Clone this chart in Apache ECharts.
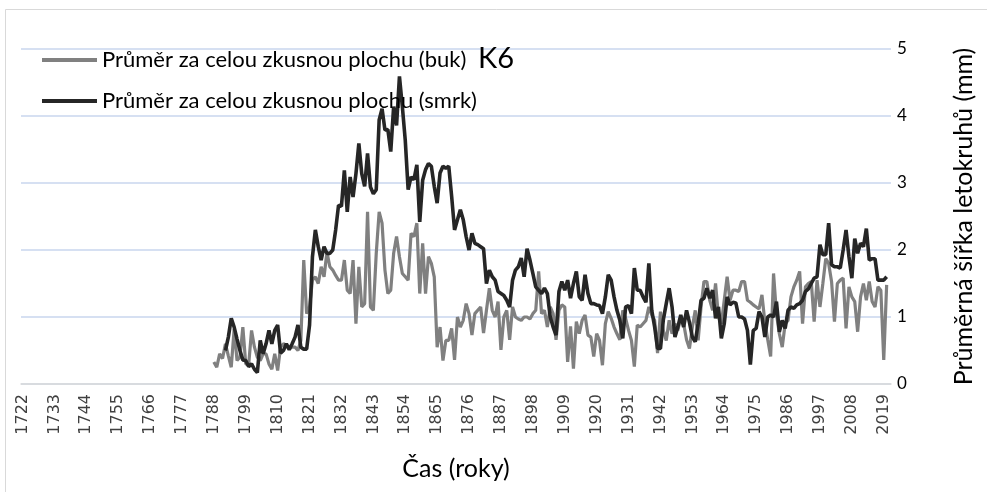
<!DOCTYPE html>
<html>
<head>
<meta charset="utf-8">
<script src="https://cdn.jsdelivr.net/npm/echarts@6/dist/echarts.min.js"></script>
<style>
html,body{margin:0;padding:0;background:#fff;}
#chart{width:987px;height:492px;}
</style>
</head>
<body>
<div id="chart"></div>
<script>
// Category axis: years
const firstYear = 1722;
const lastYear = 2021;
const years = [];
for (let y = firstYear; y <= lastYear; y++) years.push(String(y));

const yTicks = [0, 1, 2, 3, 4, 5];

// Buk (beech) average ring width, starting 1788
const bukStart = 1788;
const bukValues = [
0.33,0.25,0.45,0.38,0.6,0.42,0.25,0.82,0.35,0.4,
0.85,0.3,0.28,0.8,0.55,0.4,0.35,0.45,0.45,0.3,
0.22,0.45,0.2,0.55,0.6,0.58,0.55,0.55,0.55,0.5,
0.65,1.85,1.05,1.15,1.55,1.6,1.5,1.75,1.6,1.97,
1.75,1.7,1.62,1.55,1.55,1.85,1.4,1.35,1.85,0.9,
1.75,1.15,1.2,2.57,1.15,1.1,1.95,2.57,2.4,1.7,
1.35,1.4,1.95,2.2,1.9,1.65,1.6,1.55,2.25,2.2,
2.4,1.35,2.1,1.35,1.9,1.8,1.6,0.55,0.85,0.35,
0.65,0.65,0.83,0.36,1.0,0.85,0.95,1.2,1.05,0.73,
1.05,1.1,1.15,0.76,1.1,1.43,1.1,1.0,1.23,0.51,
1.0,1.1,0.66,1.15,1.0,0.97,0.95,1.0,1.0,0.97,
1.05,1.1,1.68,1.05,1.1,0.85,1.15,1.05,0.66,1.1,
1.18,1.15,0.33,0.86,0.23,0.93,0.75,0.95,1.03,0.73,
0.7,0.41,0.75,0.65,0.28,0.9,1.08,0.98,0.85,0.75,
0.66,1.1,0.98,0.8,0.65,0.26,0.88,0.85,0.9,0.95,
1.15,1.03,0.95,0.46,1.08,0.8,0.65,0.95,0.75,0.9,
0.8,1.0,0.9,0.66,0.53,0.85,1.1,0.65,1.15,1.53,
1.53,1.25,1.1,1.5,1.0,0.9,1.25,1.6,1.25,1.4,
1.4,1.38,1.53,1.53,1.25,1.22,1.18,1.15,1.12,1.33,
0.93,0.66,0.41,1.65,1.05,0.75,0.55,0.9,0.95,1.3,
1.45,1.55,1.68,0.9,1.45,1.5,1.53,0.93,1.55,1.15,
1.5,1.87,1.8,1.53,0.93,1.5,1.55,1.58,0.83,1.45,
1.3,1.23,0.78,1.3,1.5,1.25,1.53,1.23,1.15,1.45,
1.4,0.36,1.48
];

// Smrk (spruce) average ring width, starting 1792
const smrkStart = 1792;
const smrkValues = [
0.5,0.7,0.98,0.85,0.67,0.5,0.36,0.35,0.26,0.3,
0.22,0.17,0.65,0.45,0.6,0.8,0.6,0.8,0.88,0.46,
0.5,0.6,0.51,0.6,0.7,0.88,0.55,0.52,0.52,0.88,
1.9,2.3,2.05,1.85,2.05,1.95,1.95,2.0,2.3,2.67,
2.65,3.19,2.57,3.09,2.79,3.14,3.59,3.14,2.95,3.44,
2.94,2.84,2.9,3.94,4.11,3.79,3.8,3.47,4.14,3.86,
4.59,4.14,3.64,2.9,3.09,3.05,3.27,2.42,3.04,3.2,
3.29,3.25,2.95,2.7,3.15,3.25,3.22,3.25,2.8,2.3,
2.45,2.6,2.45,2.2,2.0,2.25,2.1,2.08,2.05,2.02,
1.5,1.7,1.6,1.55,1.38,1.35,1.32,1.25,1.15,1.55,
1.7,1.75,1.88,1.6,2.02,1.85,1.65,1.45,1.4,1.35,
1.43,1.35,1.0,0.85,0.73,1.38,1.53,1.4,1.55,1.28,
1.5,1.68,1.3,1.25,1.63,1.35,1.2,1.2,1.18,1.17,
1.05,1.3,1.63,1.55,1.3,1.1,0.95,0.68,1.15,1.17,
1.05,1.73,1.4,1.4,1.3,1.22,1.8,1.1,0.85,0.53,
0.53,0.96,1.2,1.43,1.15,0.7,0.85,1.03,0.85,1.1,
0.92,0.7,0.63,0.9,1.25,1.28,1.43,1.28,1.4,0.98,
1.15,0.68,0.9,1.3,1.18,1.22,1.21,1.0,1.0,0.97,
0.8,0.29,0.8,0.83,1.08,1.0,0.7,1.0,1.03,1.0,
1.23,0.78,0.95,0.83,1.1,1.15,1.13,1.18,1.2,1.25,
1.38,1.42,1.5,1.58,1.6,2.08,1.93,1.93,2.4,1.78,
1.75,1.75,1.73,2.0,2.3,1.9,1.58,2.17,1.95,2.1,
2.05,2.32,1.85,1.87,1.87,1.55,1.55,1.55,1.6
];

function pad(start, vals) {
  const out = [];
  for (let y = firstYear; y <= lastYear; y++) {
    const i = y - start;
    out.push(i >= 0 && i < vals.length ? vals[i] : null);
  }
  return out;
}

const chart = echarts.init(document.getElementById('chart'), null, {renderer: 'canvas'});
const FONT = 'Lato';
chart.setOption({
  animation: false,
  backgroundColor: '#ffffff',
  graphic: [{
    type: 'rect',
    shape: {x: 5.5, y: 9.5, width: 1000, height: 500},
    style: {fill: 'none', stroke: '#d9d9d9', lineWidth: 1},
    silent: true
  }],
  title: {
    text: 'K6',
    left: 473,
    top: 39,
    textStyle: {fontFamily: FONT, fontSize: 29, fontWeight: 'normal', color: '#000'}
  },
  legend: {
    orient: 'vertical',
    left: 37,
    top: 43,
    itemWidth: 55,
    itemHeight: 4,
    itemGap: 17,
    icon: 'rect',
    textStyle: {fontFamily: FONT, fontSize: 22, color: '#000', lineHeight: 24},
    data: ['Průměr za celou zkusnou plochu (buk)', 'Průměr za celou zkusnou plochu (smrk)']
  },
  grid: {left: 21, right: 96, top: 49, bottom: 108, containLabel: false},
  xAxis: {
    type: 'category',
    data: years,
    boundaryGap: true,
    name: 'Čas (roky)',
    nameLocation: 'middle',
    nameGap: 72,
    nameTextStyle: {fontFamily: FONT, fontSize: 25, color: '#000'},
    axisLine: {lineStyle: {color: '#d9d9d9', width: 1.5}},
    axisTick: {show: false},
    axisLabel: {interval: 10, rotate: 90, margin: 10, fontFamily: 'DejaVu Sans', fontSize: 16, color: '#404040'},
    splitLine: {show: false}
  },
  yAxis: {
    type: 'value',
    position: 'right',
    min: yTicks[0],
    max: yTicks[yTicks.length - 1],
    interval: 1,
    name: 'Průměrná šířka letokruhů (mm)',
    nameLocation: 'middle',
    nameRotate: 90,
    nameGap: 60,
    nameTextStyle: {fontFamily: FONT, fontSize: 25, color: '#000'},
    axisLine: {show: false},
    axisTick: {show: false},
    axisLabel: {margin: 6, fontFamily: FONT, fontSize: 17, color: '#000'},
    splitLine: {lineStyle: {color: '#c9d6ee', width: 1.5}}
  },
  series: [
    {
      name: 'Průměr za celou zkusnou plochu (buk)',
      type: 'line',
      data: pad(bukStart, bukValues),
      symbol: 'none',
      connectNulls: false,
      lineStyle: {color: '#808080', width: 3.2},
      itemStyle: {color: '#808080'},
      z: 2
    },
    {
      name: 'Průměr za celou zkusnou plochu (smrk)',
      type: 'line',
      data: pad(smrkStart, smrkValues),
      symbol: 'none',
      connectNulls: false,
      lineStyle: {color: '#262626', width: 3.6},
      itemStyle: {color: '#262626'},
      z: 3
    }
  ]
});
</script>
</body>
</html>
